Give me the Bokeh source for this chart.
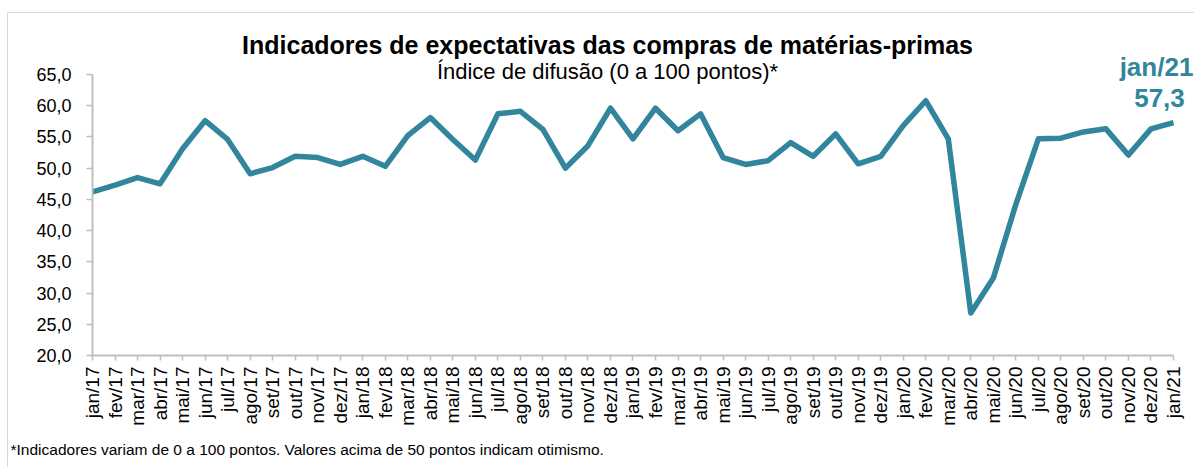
import math
from bokeh.plotting import figure
from bokeh.models import Range1d, FixedTicker, Label, Title
from bokeh.embed import file_html
from bokeh.resources import INLINE

months = ["jan/17", "fev/17", "mar/17", "abr/17", "mai/17", "jun/17", "jul/17", "ago/17",
          "set/17", "out/17", "nov/17", "dez/17",
          "jan/18", "fev/18", "mar/18", "abr/18", "mai/18", "jun/18", "jul/18", "ago/18",
          "set/18", "out/18", "nov/18", "dez/18",
          "jan/19", "fev/19", "mar/19", "abr/19", "mai/19", "jun/19", "jul/19", "ago/19",
          "set/19", "out/19", "nov/19", "dez/19",
          "jan/20", "fev/20", "mar/20", "abr/20", "mai/20", "jun/20", "jul/20", "ago/20",
          "set/20", "out/20", "nov/20", "dez/20",
          "jan/21"]

values = [46.2, 47.3, 48.5, 47.5, 53.1, 57.6, 54.6, 49.1, 50.1, 51.9, 51.7, 50.6,
          51.9, 50.3, 55.2, 58.1, 54.6, 51.3, 58.7, 59.1, 56.2, 50.0, 53.6, 59.6,
          54.7, 59.6, 56.0, 58.7, 51.7, 50.6, 51.2, 54.1, 51.9, 55.5, 50.7, 51.9,
          56.8, 60.8, 54.7, 26.8, 32.4, 44.2, 54.7, 54.8, 55.8, 56.3, 52.1, 56.3,
          57.3]

y_ticks = [20, 25, 30, 35, 40, 45, 50, 55, 60, 65]

title_text = "Indicadores de expectativas das compras de matérias-primas"
subtitle_text = "Índice de difusão (0 a 100 pontos)*"
note_text = "*Indicadores variam de 0 a 100 pontos. Valores acima de 50 pontos indicam otimismo."

LINE = "#31859C"
AXIS = "#BFBFBF"
FONT = "Liberation Sans"

x = list(range(len(months)))
n_last = len(months) - 1

p = figure(width=1187, height=455, output_backend="svg", toolbar_location=None,
           x_range=Range1d(0, n_last + 0.977), y_range=Range1d(20, 73.65),
           min_border_left=84, min_border_right=0, min_border_top=7, min_border_bottom=113,
           styles={"margin-left": "7px", "margin-top": "12px",
                   "border-left": "1px solid #D9D9D9", "border-top": "1px solid #D9D9D9"})
p.outline_line_color = None
p.grid.visible = False
p.background_fill_color = "white"
p.border_fill_color = "white"

p.line(x, values, line_color=LINE, line_width=5.5, line_join="round")

# axes
xa = p.xaxis[0]
xa.bounds = (0, n_last)
xa.ticker = FixedTicker(ticks=x)
xa.major_label_overrides = {i: m for i, m in enumerate(months)}
xa.major_label_orientation = math.pi / 2
xa.major_label_text_font = FONT
xa.major_label_text_font_size = "19px"
xa.major_label_text_color = "#000000"
xa.major_label_standoff = 6
xa.axis_line_color = AXIS
xa.axis_line_width = 2
xa.major_tick_line_color = AXIS
xa.major_tick_line_width = 1.5
xa.major_tick_out = 5
xa.major_tick_in = 0
xa.minor_tick_line_color = None

ya = p.yaxis[0]
ya.bounds = (20, 65)
ya.ticker = FixedTicker(ticks=y_ticks)
ya.major_label_overrides = {t: f"{t:.1f}".replace(".", ",") for t in y_ticks}
ya.major_label_text_font = FONT
ya.major_label_text_font_size = "18px"
ya.major_label_text_color = "#000000"
ya.major_label_standoff = 15
ya.axis_line_color = AXIS
ya.axis_line_width = 2
ya.major_tick_line_color = AXIS
ya.major_tick_line_width = 1.5
ya.major_tick_out = 6
ya.major_tick_in = 0
ya.minor_tick_line_color = None

# titles (screen units relative to the frame)
p.add_layout(Label(x=515, y=311, x_units="screen", y_units="screen", text=title_text,
                   text_align="center", text_baseline="alphabetic",
                   text_font=FONT, text_font_style="bold", text_font_size="25px",
                   text_color="#000000"))
p.add_layout(Label(x=515, y=284, x_units="screen", y_units="screen", text=subtitle_text,
                   text_align="center", text_baseline="alphabetic",
                   text_font=FONT, text_font_size="22px", text_color="#000000"))

# footnote below the axis
p.add_layout(Title(text=note_text, align="left", offset=-82, standoff=21,
                   text_font=FONT, text_font_style="normal", text_font_size="15.5px",
                   text_color="#000000"), "below")

# last value annotation
last_val = f"{values[-1]:.1f}".replace(".", ",")
p.add_layout(Label(x=x[-1], y=values[-1], x_offset=-14, y_offset=25, text=last_val,
                   text_align="center", text_baseline="alphabetic",
                   text_font=FONT, text_font_style="bold", text_font_size="26px",
                   text_color=LINE))
p.add_layout(Label(x=x[-1], y=values[-1], x_offset=-17, y_offset=56, text=months[-1],
                   text_align="center", text_baseline="alphabetic",
                   text_font=FONT, text_font_style="bold", text_font_size="26px",
                   text_color=LINE))

open("out.html", "w").write(file_html(p, INLINE))
